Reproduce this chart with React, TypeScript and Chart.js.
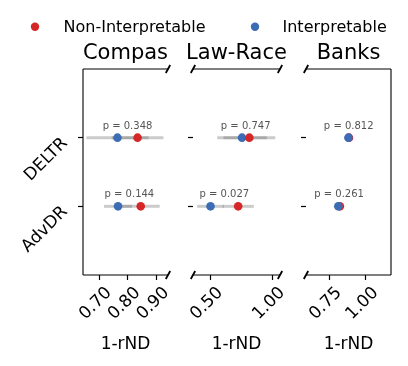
import React, { useEffect, useRef } from 'react';
import { Chart, registerables } from 'chart.js';

Chart.register(...registerables);

const FONT = 'DejaVu Sans';
const RED = '#d62728';
const BLUE = '#3c6cb4';
const CI_COLOR = 'rgba(105,105,105,0.35)';

// ---- data ----
const methods = ['DELTR', 'AdvDR'];
const legendLabels = ['Non-Interpretable', 'Interpretable'];
const panelTitles = ['Compas', 'Law-Race', 'Banks'];
const xTitle = '1-rND';

const compasNonInterp = [0.834, 0.845];
const compasNonInterpCI = [0.09, 0.066];
const compasInterp = [0.764, 0.766];
const compasInterpCI = [0.108, 0.049];
const compasP = ['0.348', '0.144'];
const compasTicks = [0.7, 0.8, 0.9];
const compasRange = [0.644, 0.94];

const lawNonInterp = [0.815, 0.725];
const lawNonInterpCI = [0.209, 0.126];
const lawInterp = [0.756, 0.502];
const lawInterpCI = [0.2, 0.107];
const lawP = ['0.747', '0.027'];
const lawTicks = [0.5, 1.0];
const lawRange = [0.361, 1.062];

const banksNonInterp = [0.886, 0.824];
const banksNonInterpCI = [0.01, 0.01];
const banksInterp = [0.882, 0.813];
const banksInterpCI = [0.01, 0.01];
const banksP = ['0.812', '0.261'];
const banksTicks = [0.75, 1.0];
const banksRange = [0.593, 1.172];

// ---- layout / style config ----
const W = 408;
const H = 366;
const PLOT_TOP = 69;
const PLOT_BOTTOM = 275;

type PanelCfg = {
  title: string;
  nonInterp: number[];
  nonInterpCI: number[];
  interp: number[];
  interpCI: number[];
  p: string[];
  ticks: number[];
  range: number[];
  left: number;
  right: number;
  yLabels: boolean;
  spines: { top: boolean; bottom: boolean; left: boolean; right: boolean };
  breaks: { left: boolean; right: boolean };
  interpOnTop: boolean;
  legend: boolean;
};

const panels: PanelCfg[] = [
  {
    title: panelTitles[0], nonInterp: compasNonInterp, nonInterpCI: compasNonInterpCI,
    interp: compasInterp, interpCI: compasInterpCI, p: compasP, ticks: compasTicks, range: compasRange,
    left: 83, right: 168, yLabels: true,
    spines: { top: true, bottom: true, left: true, right: false },
    breaks: { left: false, right: true }, interpOnTop: true, legend: true,
  },
  {
    title: panelTitles[1], nonInterp: lawNonInterp, nonInterpCI: lawNonInterpCI,
    interp: lawInterp, interpCI: lawInterpCI, p: lawP, ticks: lawTicks, range: lawRange,
    left: 193, right: 280, yLabels: false,
    spines: { top: true, bottom: true, left: false, right: false },
    breaks: { left: true, right: true }, interpOnTop: false, legend: false,
  },
  {
    title: panelTitles[2], nonInterp: banksNonInterp, nonInterpCI: banksNonInterpCI,
    interp: banksInterp, interpCI: banksInterpCI, p: banksP, ticks: banksTicks, range: banksRange,
    left: 306, right: 391, yLabels: false,
    spines: { top: true, bottom: true, left: false, right: true },
    breaks: { left: true, right: false }, interpOnTop: true, legend: false,
  },
];

const rowY = (i: number) => methods.length - 1 - i;

function buildConfig(pc: PanelCfg): any {
  const ciSet = (vals: number[], cis: number[], i: number) => ({
    data: [
      { x: vals[i] - cis[i], y: rowY(i) },
      { x: vals[i] + cis[i], y: rowY(i) },
    ],
    showLine: true,
    borderColor: CI_COLOR,
    borderWidth: 3,
    borderCapStyle: 'butt',
    pointRadius: 0,
    order: 10,
  });
  const pointSet = (vals: number[], color: string, order: number) => ({
    data: vals.map((v, i) => ({ x: v, y: rowY(i) })),
    backgroundColor: color,
    borderWidth: 0,
    pointRadius: 4.3,
    showLine: false,
    order,
  });
  const datasets: any[] = [];
  methods.forEach((_, i) => {
    datasets.push(ciSet(pc.interp, pc.interpCI, i));
    datasets.push(ciSet(pc.nonInterp, pc.nonInterpCI, i));
  });
  datasets.push(pointSet(pc.nonInterp, RED, pc.interpOnTop ? 2 : 1));
  datasets.push(pointSet(pc.interp, BLUE, pc.interpOnTop ? 1 : 2));

  const yW = pc.yLabels ? 83 : 20;

  const deco = {
    id: 'deco',
    afterDraw(chart: any) {
      const { ctx, chartArea: a, scales } = chart;
      const xs = scales.x;
      const ys = scales.y;
      ctx.save();
      // spines
      ctx.strokeStyle = '#000';
      ctx.lineWidth = 1.1;
      ctx.beginPath();
      if (pc.spines.top) { ctx.moveTo(a.left, a.top); ctx.lineTo(a.right, a.top); }
      if (pc.spines.bottom) { ctx.moveTo(a.left, a.bottom); ctx.lineTo(a.right, a.bottom); }
      if (pc.spines.left) { ctx.moveTo(a.left, a.top); ctx.lineTo(a.left, a.bottom); }
      if (pc.spines.right) { ctx.moveTo(a.right, a.top); ctx.lineTo(a.right, a.bottom); }
      ctx.stroke();
      // break marks
      ctx.lineWidth = 1.8;
      ctx.beginPath();
      const slash = (x: number, y: number) => { ctx.moveTo(x - 2.2, y + 4); ctx.lineTo(x + 2.2, y - 4); };
      if (pc.breaks.left) { slash(a.left, a.top); slash(a.left, a.bottom); }
      if (pc.breaks.right) { slash(a.right, a.top); slash(a.right, a.bottom); }
      ctx.stroke();
      // p-value labels
      ctx.fillStyle = '#555';
      ctx.font = `10px "${FONT}"`;
      ctx.textAlign = 'center';
      ctx.textBaseline = 'alphabetic';
      methods.forEach((_, i) => {
        const cx = xs.getPixelForValue((pc.nonInterp[i] + pc.interp[i]) / 2);
        const cy = ys.getPixelForValue(rowY(i)) - 9;
        ctx.fillText(`p = ${pc.p[i]}`, cx, cy);
      });
      // panel title
      ctx.fillStyle = '#000';
      ctx.font = `21px "${FONT}"`;
      ctx.fillText(pc.title, (a.left + a.right) / 2, a.top - 9.8);
      // legend
      if (pc.legend) {
        const items = [
          { label: legendLabels[0], color: RED, dot: 35, text: 63.5 },
          { label: legendLabels[1], color: BLUE, dot: 255, text: 282.5 },
        ];
        ctx.font = `16px "${FONT}"`;
        ctx.textAlign = 'left';
        items.forEach((it) => {
          ctx.fillStyle = it.color;
          ctx.beginPath();
          ctx.arc(it.dot, 26.7, 4.2, 0, Math.PI * 2);
          ctx.fill();
          ctx.fillStyle = '#000';
          ctx.fillText(it.label, it.text, 32.3);
        });
      }
      ctx.restore();
    },
  };

  return {
    type: 'scatter',
    data: { datasets },
    options: {
      animation: false,
      responsive: false,
      devicePixelRatio: 1,
      layout: { padding: { left: pc.left - yW, right: W - pc.right, top: PLOT_TOP, bottom: 0 } },
      plugins: { legend: { display: false }, tooltip: { enabled: false }, title: { display: false } },
      scales: {
        x: {
          type: 'linear',
          min: pc.range[0],
          max: pc.range[1],
          afterBuildTicks: (s: any) => { s.ticks = pc.ticks.map((v) => ({ value: v })); },
          afterFit: (s: any) => { s.height = H - PLOT_BOTTOM; },
          ticks: {
            minRotation: 45, maxRotation: 45, autoSkip: false,
            font: { family: FONT, size: 17 }, color: '#000',
            padding: 3, labelOffset: 10,
            callback: (v: any) => Number(v).toFixed(2),
          },
          grid: { display: true, drawOnChartArea: false, drawTicks: true, tickLength: 5, tickWidth: 1.2, tickColor: '#000', color: '#000' },
          border: { display: false },
          title: { display: true, text: xTitle, font: { family: FONT, size: 17 }, color: '#000', padding: { top: 0, bottom: 11 } },
        },
        y: {
          type: 'linear',
          min: -1,
          max: 2,
          afterBuildTicks: (s: any) => { s.ticks = methods.map((_, i) => ({ value: rowY(i) })); },
          afterFit: (s: any) => { s.width = yW; },
          ticks: {
            display: pc.yLabels,
            minRotation: 45, maxRotation: 45,
            font: { family: FONT, size: 17 }, color: '#000',
            padding: 13, labelOffset: 3,
            callback: (v: any) => methods[methods.length - 1 - Number(v)],
          },
          grid: { display: true, drawOnChartArea: false, drawTicks: true, tickLength: 5, tickWidth: 1.2, tickColor: '#000', color: '#000' },
          border: { display: false },
        },
      },
    },
    plugins: [deco],
  };
}

function PanelChart({ pc }: { pc: PanelCfg }) {
  const ref = useRef<HTMLCanvasElement>(null);
  useEffect(() => {
    if (!ref.current) return;
    const chart = new Chart(ref.current, buildConfig(pc));
    return () => chart.destroy();
  }, [pc]);
  return (
    <canvas
      ref={ref}
      width={W}
      height={H}
      style={{ position: 'absolute', left: 0, top: 0, width: W, height: H }}
    />
  );
}

export default function App() {
  return (
    <div style={{ position: 'fixed', left: 0, top: 0, width: W, height: H, background: '#fff' }}>
      {panels.map((pc) => (
        <PanelChart key={pc.title} pc={pc} />
      ))}
    </div>
  );
}
